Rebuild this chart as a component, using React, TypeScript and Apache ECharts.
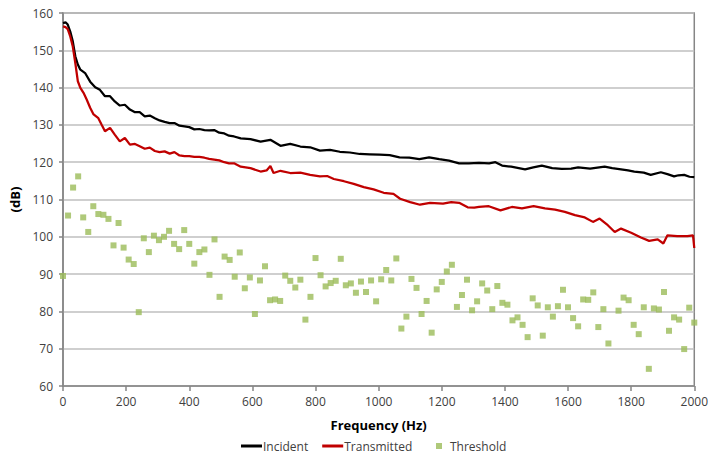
import React, { useEffect, useRef } from "react";
import * as echarts from "echarts";

const xTicks = [0, 200, 400, 600, 800, 1000, 1200, 1400, 1600, 1800, 2000];
const yTicks = [60, 70, 80, 90, 100, 110, 120, 130, 140, 150, 160];

const incidentHz = [0, 8, 15, 23, 31, 39, 47, 55, 70, 86, 102, 117, 133, 149, 164, 180, 196, 212, 228, 243, 259, 275, 291, 306, 322, 338, 353, 369, 385, 400, 416, 432, 448, 463, 479, 495, 511, 526, 542, 563, 594, 626, 657, 689, 720, 752, 783, 814, 846, 877, 909, 940, 972, 1003, 1035, 1066, 1097, 1129, 1160, 1192, 1223, 1255, 1286, 1318, 1350, 1370, 1391, 1420, 1464, 1490, 1517, 1550, 1580, 1610, 1632, 1670, 1716, 1740, 1768, 1790, 1810, 1840, 1862, 1894, 1915, 1936, 1950, 1968, 1985, 2000];
const incidentDb = [157.3, 157.5, 156.9, 155.0, 152.4, 148.4, 146.2, 144.8, 143.9, 141.6, 140.1, 139.4, 137.7, 137.7, 136.3, 135.2, 135.4, 134.1, 133.4, 133.4, 132.3, 132.5, 131.8, 131.2, 130.8, 130.5, 130.5, 129.8, 129.6, 129.4, 128.8, 128.9, 128.6, 128.5, 128.6, 127.9, 127.7, 127.1, 126.9, 126.4, 126.2, 125.5, 126.0, 124.4, 124.9, 124.2, 124.0, 123.1, 123.3, 122.8, 122.6, 122.2, 122.1, 122.0, 121.9, 121.3, 121.2, 120.8, 121.3, 120.8, 120.4, 119.7, 119.7, 119.8, 119.7, 120.0, 119.1, 118.8, 118.1, 118.6, 119.1, 118.4, 118.2, 118.3, 118.6, 118.3, 118.8, 118.4, 118.1, 117.8, 117.5, 117.2, 116.6, 117.3, 116.8, 116.2, 116.5, 116.6, 116.1, 116.0];

const transmittedHz = [0, 8, 15, 23, 31, 39, 47, 55, 65, 75, 86, 96, 112, 122, 133, 149, 164, 180, 196, 212, 228, 243, 259, 275, 291, 306, 322, 338, 353, 369, 385, 400, 416, 432, 448, 463, 479, 495, 511, 526, 542, 563, 594, 626, 645, 657, 667, 689, 720, 752, 783, 814, 837, 858, 890, 921, 953, 984, 1016, 1047, 1068, 1100, 1131, 1163, 1204, 1230, 1255, 1282, 1303, 1318, 1349, 1386, 1422, 1454, 1491, 1527, 1559, 1590, 1622, 1653, 1679, 1700, 1726, 1748, 1768, 1800, 1831, 1857, 1884, 1902, 1915, 1946, 1978, 1996, 2000];
const transmittedDb = [156.4, 156.2, 155.7, 153.7, 151.0, 146.6, 141.7, 139.9, 138.6, 136.8, 134.6, 132.9, 131.8, 130.1, 128.3, 129.2, 127.4, 125.6, 126.5, 124.7, 124.9, 124.3, 123.6, 123.9, 123.0, 122.7, 122.9, 122.3, 122.7, 121.8, 121.6, 121.6, 121.4, 121.4, 121.2, 120.9, 120.7, 120.5, 120.0, 119.7, 119.7, 118.8, 118.4, 117.5, 117.8, 119.0, 117.1, 117.7, 117.1, 117.2, 116.6, 116.2, 116.3, 115.5, 114.9, 114.2, 113.3, 112.7, 111.8, 111.5, 110.2, 109.3, 108.6, 109.1, 108.9, 109.3, 109.1, 107.9, 107.8, 108.0, 108.2, 107.1, 108.0, 107.6, 108.2, 107.6, 107.3, 106.7, 105.8, 105.2, 104.0, 104.9, 103.1, 101.3, 102.2, 101.1, 99.8, 98.9, 99.3, 98.2, 100.4, 100.2, 100.2, 100.4, 97.0];

const thresholdStepHz = 16;
const thresholdDb: (number | null)[] = [
  89.5, 105.7, 113.2, 116.2, 105.2, 101.3, 108.2, 106.1, 105.9, 104.8, 97.7, 103.7, 97.1, 93.9, 92.7, 79.8, 99.6, 95.9, 100.3, 99.1, 100.0, 101.6, 98.1, 96.7, 101.8, 98.1,
  92.8, 95.9, 96.6, 89.8, 99.3, 83.9, 94.7, 93.8, 89.3, 95.8, 86.2, 89.1, 79.3, 88.3, 92.1, 83.0, 83.2, 82.8, 89.6, 88.2, 86.4, 88.5, 77.8, 83.9, 94.3,
  89.7, 86.7, 87.6, 88.2, 94.1, 87.0, 87.5, 85.0, 88.0, 85.2, 88.3, 82.7, 88.6, 91.1, 88.3, 94.2, 75.4, 78.6, 88.7, 86.3, 79.3, 82.8, 74.3, 85.9, 87.9,
  90.7, 92.5, 81.2, 84.4, 88.5, 80.3, 82.7, 87.5, 85.6, 80.6, 86.8, 82.3, 81.8, 77.6, 78.4, 76.4, 73.1, 83.5, 81.6, 73.5, 81.1, 78.6, 81.4, 85.8, 81.1,
  78.2, 76.0, 83.2, 83.1, 85.1, 75.8, 80.6, 71.4, null, 80.2, 83.7, 83.0, 76.4, 73.9, 81.1, 64.6, 80.8, 80.5, 85.2, 74.8, 78.4, 77.8, 69.9, 81.0, 77.0,
];

const FONT = "'Open Sans', 'Noto Sans', sans-serif";

export default function App() {
  const ref = useRef<HTMLDivElement>(null);
  useEffect(() => {
    if (!ref.current) return;
    const chart = echarts.init(ref.current, undefined, { renderer: "svg" });
    const incident = incidentHz.map((x, i) => [x, incidentDb[i]]);
    const transmitted = transmittedHz.map((x, i) => [x, transmittedDb[i]]);
    const threshold = thresholdDb
      .map((v, i) => (v === null ? null : [i * thresholdStepHz, v]))
      .filter((d) => d !== null);
    chart.setOption({
      animation: false,
      backgroundColor: "#ffffff",
      textStyle: { fontFamily: FONT },
      grid: {
        left: 61,
        right: 14,
        top: 13,
        bottom: 71,
        show: true,
        borderColor: "#868686",
        borderWidth: 1.5,
        backgroundColor: "transparent",
      },
      legend: [
        {
          data: [
            { name: "Incident", icon: "rect" },
            { name: "Transmitted", icon: "rect" },
          ],
          left: 241,
          top: 440,
          padding: 0,
          itemWidth: 21,
          itemHeight: 3,
          itemGap: 14,
          textStyle: { fontFamily: FONT, fontSize: 12, color: "#404040", padding: [0, 0, 0, -4] },
        },
        {
          data: [{ name: "Threshold", icon: "rect" }],
          left: 436,
          top: 440,
          padding: 0,
          itemWidth: 6,
          itemHeight: 6,
          textStyle: { fontFamily: FONT, fontSize: 12, color: "#404040", padding: [0, 0, 0, 3] },
        },
      ],
      xAxis: {
        type: "value",
        min: xTicks[0],
        max: xTicks[xTicks.length - 1],
        interval: 200,
        name: "Frequency (Hz)",
        nameLocation: "middle",
        nameGap: 32,
        nameTextStyle: { fontFamily: FONT, fontSize: 13, fontWeight: "bold", color: "#000000" },
        axisLine: { show: true, lineStyle: { color: "#868686", width: 1.5 } },
        axisTick: { show: true, length: 5, lineStyle: { color: "#868686", width: 1.5 } },
        axisLabel: {
          margin: 9,
          fontSize: 12,
          color: "#404040",
          fontFamily: FONT,
          formatter: (v: number) => String(v),
        },
        splitLine: { show: false },
      },
      yAxis: {
        type: "value",
        min: yTicks[0],
        max: yTicks[yTicks.length - 1],
        interval: 10,
        name: "(dB)",
        nameLocation: "middle",
        nameRotate: 90,
        nameGap: 42,
        nameTextStyle: { fontFamily: FONT, fontSize: 13, fontWeight: "bold", color: "#000000" },
        axisLine: { show: true, lineStyle: { color: "#868686", width: 1.5 } },
        axisTick: { show: true, length: 4, lineStyle: { color: "#868686", width: 1.5 } },
        axisLabel: { margin: 10, fontSize: 12, color: "#404040", fontFamily: FONT },
        splitLine: { show: true, lineStyle: { color: "#BFBFBF", width: 1.5 } },
      },
      series: [
        {
          name: "Incident",
          type: "line",
          data: incident,
          showSymbol: false,
          symbol: "none",
          lineStyle: { color: "#000000", width: 2.25 },
          itemStyle: { color: "#000000" },
          z: 3,
        },
        {
          name: "Transmitted",
          type: "line",
          data: transmitted,
          showSymbol: false,
          symbol: "none",
          lineStyle: { color: "#C00000", width: 2.25 },
          itemStyle: { color: "#C00000" },
          z: 3,
        },
        {
          name: "Threshold",
          type: "scatter",
          data: threshold,
          symbol: "rect",
          symbolSize: 6,
          itemStyle: { color: "#9BBB59" },
          z: 2,
        },
      ],
    });
    return () => chart.dispose();
  }, []);
  return <div ref={ref} style={{ width: 711, height: 457, position: "absolute", left: 0, top: 0 }} />;
}
